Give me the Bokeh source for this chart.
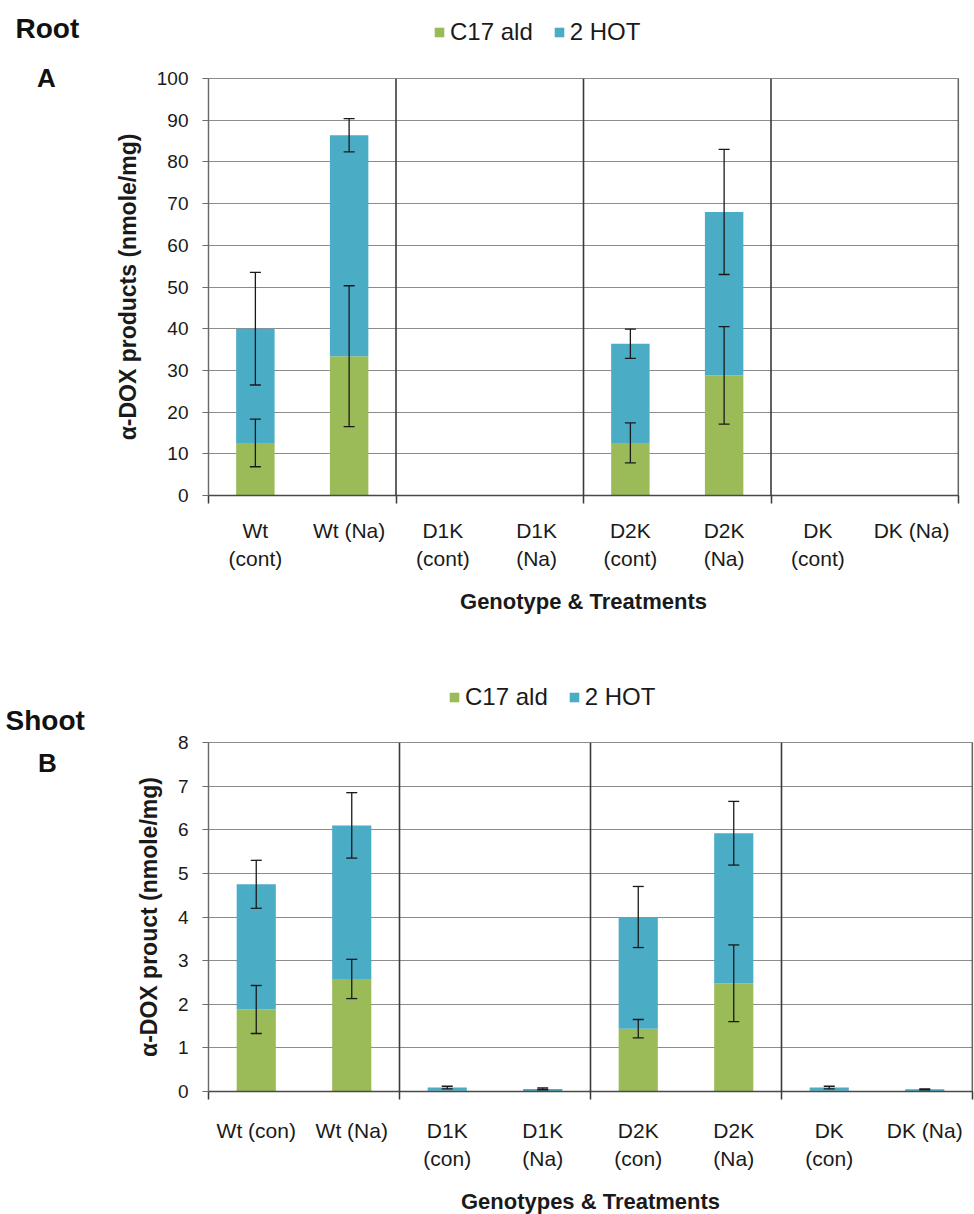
from bokeh.plotting import figure
from bokeh.layouts import column, row
from bokeh.models import (ColumnDataSource, Range1d, FixedTicker, SingleIntervalTicker,
                          Whisker, TeeHead, Span, Legend, LegendItem)
from bokeh.core.properties import value
from bokeh.embed import file_html
from bokeh.resources import INLINE

# ---------------- data ----------------
series_names = ["C17 ald", "2 HOT"]

labels_a = ["Wt\n(cont)", "Wt (Na)", "D1K\n(cont)", "D1K\n(Na)",
            "D2K\n(cont)", "D2K\n(Na)", "DK\n(cont)", "DK (Na)"]
c17_a = [12.6, 33.4, 0, 0, 12.6, 28.8, 0, 0]
hot_a = [27.4, 53.0, 0, 0, 23.8, 39.2, 0, 0]
c17_err_a = [5.7, 16.9, 0, 0, 4.8, 11.7, 0, 0]
tot_err_a = [13.5, 4.0, 0, 0, 3.5, 15.0, 0, 0]

labels_b = ["Wt (con)", "Wt (Na)", "D1K\n(con)", "D1K\n(Na)",
            "D2K\n(con)", "D2K\n(Na)", "DK\n(con)", "DK (Na)"]
c17_b = [1.88, 2.58, 0.02, 0.01, 1.44, 2.48, 0.02, 0.01]
hot_b = [2.87, 3.52, 0.07, 0.05, 2.56, 3.44, 0.07, 0.04]
c17_err_b = [0.55, 0.45, 0.0, 0.0, 0.21, 0.88, 0.0, 0.0]
tot_err_b = [0.55, 0.75, 0.03, 0.02, 0.70, 0.73, 0.03, 0.01]

panel_words = ["Root", "Shoot"]
panel_letters = ["A", "B"]

GREEN = "#9bbb59"
BLUE = "#4bacc6"
FONT = "Liberation Sans"
LEFT_W = 110
RIGHT_W = 974 - LEFT_W
B_LEFT = 98


def make_header(height, legend_xy):
    h = figure(width=RIGHT_W, height=height, x_range=Range1d(0, 1), y_range=Range1d(0, 1),
               output_backend="svg", toolbar_location=None,
               x_axis_type=None, y_axis_type=None, min_border=0,
               min_border_left=B_LEFT, outline_line_color=None)
    h.xgrid.grid_line_color = None
    h.ygrid.grid_line_color = None
    # legend swatch renderers (zero-height, nothing drawn in the strip itself)
    swatches = [h.vbar(x=[0.5], top=[0], width=0.0, color=c, line_color=None)
                for c in (GREEN, BLUE)]
    items = [LegendItem(label=nm, renderers=[r]) for nm, r in zip(series_names, swatches)]
    lg = Legend(items=items, orientation="horizontal", location=legend_xy,
                border_line_color=None, background_fill_alpha=0,
                label_text_font=FONT, label_text_font_size="24px",
                label_text_color="#1a1a1a", glyph_width=12, glyph_height=12,
                label_standoff=5, spacing=20, padding=4, margin=0)
    h.add_layout(lg)
    return h


def make_panel(labels, c17, hot, c17_err, tot_err, ymax, yint, ytitle, xtitle,
               frame_w, frame_h, b_right, b_top, b_bottom, xstandoff):
    n = len(labels)
    xs = [i + 0.5 for i in range(n)]
    tot = [a + b for a, b in zip(c17, hot)]
    src = ColumnDataSource(dict(x=xs, c17=c17, hot=hot))

    p = figure(frame_width=frame_w, frame_height=frame_h,
               x_range=Range1d(0, n), y_range=Range1d(0, ymax),
               output_backend="svg", toolbar_location=None,
               min_border_left=B_LEFT, min_border_right=b_right,
               min_border_top=b_top, min_border_bottom=b_bottom,
               background_fill_color="white", border_fill_color="white")
    p.outline_line_color = "#8c8c8c"
    p.outline_line_width = 1.2

    p.vbar_stack(["c17", "hot"], x="x", width=0.41, color=[GREEN, BLUE],
                 line_color=None, source=src)

    # error bars
    wx, wl, wu = [], [], []
    for i in range(n):
        if c17_err[i] > 0:
            wx.append(xs[i]); wl.append(c17[i] - c17_err[i]); wu.append(c17[i] + c17_err[i])
        if tot_err[i] > 0:
            wx.append(xs[i]); wl.append(tot[i] - tot_err[i]); wu.append(tot[i] + tot_err[i])
    wsrc = ColumnDataSource(dict(x=wx, lo=wl, hi=wu))
    w = Whisker(base="x", lower="lo", upper="hi", source=wsrc, level="overlay",
                line_color="#1a1a1a", line_width=1.3,
                upper_head=TeeHead(size=11, line_color="#1a1a1a", line_width=1.3),
                lower_head=TeeHead(size=11, line_color="#1a1a1a", line_width=1.3))
    p.add_layout(w)

    # group separators
    for loc in range(2, n + 1, 2):
        p.add_layout(Span(location=loc, dimension="height",
                          line_color="#3a3a3a", line_width=1.6))

    # y axis
    yax = p.yaxis[0]
    yax.ticker = SingleIntervalTicker(interval=yint)
    yax.axis_line_color = "#6a6a6a"
    yax.axis_line_width = 1.3
    yax.major_tick_line_color = "#6a6a6a"
    yax.major_tick_out = 6
    yax.major_tick_in = 0
    yax.minor_tick_line_color = None
    yax.major_label_text_font = FONT
    yax.major_label_text_font_size = "19px"
    yax.major_label_text_color = "#1a1a1a"
    yax.major_label_standoff = 14
    yax.axis_label = ytitle
    yax.axis_label_text_font = FONT
    yax.axis_label_text_font_style = "bold"
    yax.axis_label_text_font_size = "23px"
    yax.axis_label_text_color = "#1a1a1a"
    yax.axis_label_standoff = 13

    # x axis
    xax = p.xaxis[0]
    xax.ticker = FixedTicker(ticks=xs, minor_ticks=list(range(0, n + 1, 2)))
    xax.major_label_overrides = {x: lab for x, lab in zip(xs, labels)}
    xax.major_tick_line_color = None
    xax.major_tick_out = 0
    xax.major_tick_in = 0
    xax.minor_tick_line_color = "#3a3a3a"
    xax.minor_tick_line_width = 1.5
    xax.minor_tick_out = 8
    xax.minor_tick_in = 0
    xax.axis_line_color = "#4a4a4a"
    xax.axis_line_width = 1.6
    xax.major_label_text_font = FONT
    xax.major_label_text_font_size = "21px"
    xax.major_label_text_color = "#1a1a1a"
    xax.major_label_text_line_height = 1.25
    xax.major_label_standoff = xstandoff
    xax.axis_label = xtitle
    xax.axis_label_text_font = FONT
    xax.axis_label_text_font_style = "bold"
    xax.axis_label_text_font_size = "22px"
    xax.axis_label_text_color = "#1a1a1a"
    xax.axis_label_standoff = 16

    p.xgrid.grid_line_color = None
    p.ygrid.grid_line_color = "#8c8c8c"
    p.ygrid.grid_line_width = 1.2
    return p


hdr_a = make_header(56, (225, 10))
pa = make_panel(labels_a, c17_a, hot_a, c17_err_a, tot_err_a, 100, 10,
                "α-DOX products (nmole/mg)", "Genotype & Treatments",
                750, 417, 16, 22, 130, 15)
hdr_b = make_header(90, (240, 4))
pb = make_panel(labels_b, c17_b, hot_b, c17_err_b, tot_err_b, 8, 1,
                "α-DOX prouct (nmole/mg)", "Genotypes & Treatments",
                764, 349, 2, 27, 123, 19)

# left strip carrying the panel names
left = figure(width=LEFT_W, height=1214, x_range=Range1d(0, LEFT_W),
              y_range=Range1d(1214, 0), output_backend="svg",
              toolbar_location=None, x_axis_type=None, y_axis_type=None,
              min_border=0, outline_line_color=None)
left.xgrid.grid_line_color = None
left.ygrid.grid_line_color = None
left.text(x=[15, 5], y=[28, 720], text=panel_words, text_font=value(FONT),
          text_font_style="bold", text_font_size="28px", text_color="#111111",
          text_align="left", text_baseline="middle")
left.text(x=[46, 47], y=[77, 762], text=panel_letters, text_font=value(FONT),
          text_font_style="bold", text_font_size="26px", text_color="#111111",
          text_align="center", text_baseline="middle")

layout = row(left, column(hdr_a, pa, hdr_b, pb, spacing=0), spacing=0)
open("out.html", "w").write(file_html(layout, INLINE))
